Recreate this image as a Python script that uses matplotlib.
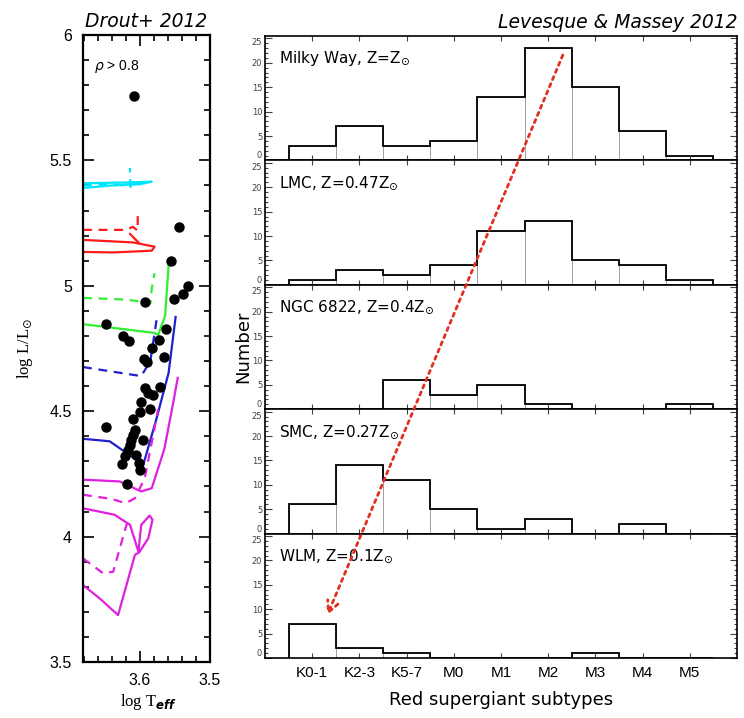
import numpy as np
import matplotlib
matplotlib.use('Agg')
import matplotlib.pyplot as plt
from matplotlib.patches import ConnectionPatch
from matplotlib.ticker import MultipleLocator

# ── right: RSG subtype histograms (Levesque & Massey 2012) ──────────────────
SUBTYPES = ['K0-1', 'K2-3', 'K5-7', 'M0', 'M1', 'M2', 'M3', 'M4', 'M5']
GALAXIES = [r'Milky Way, Z=$\mathregular{Z_{\odot}}$',
            r'LMC, Z=0.47$\mathregular{Z_{\odot}}$',
            r'NGC 6822, Z=0.4$\mathregular{Z_{\odot}}$',
            r'SMC, Z=0.27$\mathregular{Z_{\odot}}$',
            r'WLM, Z=0.1$\mathregular{Z_{\odot}}$']
MW = [3, 7, 3, 4, 13, 23, 15, 6, 1]
LMC = [1, 3, 2, 4, 11, 13, 5, 4, 1]
NGC6822 = [0, 0, 6, 3, 5, 1, 0, 0, 1]
SMC = [6, 14, 11, 5, 1, 3, 0, 2, 0]
WLM = [7, 2, 1, 0, 0, 0, 1, 0, 0]
COUNTS = [MW, LMC, NGC6822, SMC, WLM]
ARROW_START = (5.31, 21.6)   # in Milky Way panel (subtype index, number)
ARROW_END = (0.32, 8.8)      # in WLM panel

# ── left: HR diagram (Drout+ 2012) ──────────────────────────────────────────
DOT_T = [3.608, 3.544, 3.556, 3.531, 3.539, 3.551, 3.593, 3.648, 3.563, 3.624,
         3.616, 3.572, 3.583, 3.594, 3.565, 3.590, 3.571, 3.593, 3.588, 3.581,
         3.598, 3.586, 3.600, 3.610, 3.648, 3.607, 3.610, 3.612, 3.595, 3.614,
         3.617, 3.605, 3.621, 3.626, 3.601, 3.600, 3.619]
DOT_L = [5.756, 5.236, 5.097, 5.000, 4.967, 4.947, 4.937, 4.847, 4.827, 4.800,
         4.780, 4.784, 4.753, 4.707, 4.717, 4.697, 4.597, 4.593, 4.573, 4.564,
         4.537, 4.507, 4.497, 4.467, 4.437, 4.427, 4.407, 4.387, 4.387, 4.367,
         4.347, 4.327, 4.320, 4.289, 4.293, 4.267, 4.209]

# evolutionary tracks: (logT list, logL list, colour, linestyle)
TRACKS = [
    ([3.681, 3.62, 3.583, 3.60, 3.64, 3.681],
     [5.409, 5.412, 5.415, 5.405, 5.40, 5.39], '#00e5ff', '-'),
    ([3.681, 3.64, 3.62, 3.613, 3.614, 3.614],
     [5.40, 5.405, 5.40, 5.395, 5.43, 5.47], '#00e5ff', '--'),
    ([3.681, 3.62, 3.61, 3.603, 3.603],
     [5.223, 5.223, 5.235, 5.22, 5.28], '#ff1a1a', '--'),
    ([3.681, 3.61, 3.579, 3.583, 3.638, 3.681],
     [5.183, 5.173, 5.156, 5.14, 5.133, 5.135], '#ff1a1a', '-'),
    ([3.614, 3.602], [5.207, 5.173], '#ff1a1a', '-'),
    ([3.681, 3.62, 3.593, 3.585, 3.583, 3.579],
     [4.952, 4.945, 4.935, 4.93, 4.99, 5.05], '#33ee33', '--'),
    ([3.681, 3.579, 3.574, 3.564, 3.559],
     [4.847, 4.812, 4.803, 4.88, 5.08], '#33ee33', '-'),
    ([3.681, 3.598, 3.585, 3.576],
     [4.676, 4.64, 4.70, 4.867], '#2020cc', '--'),
    ([3.681, 3.643, 3.595, 3.576, 3.559, 3.549],
     [4.39, 4.38, 4.287, 4.473, 4.653, 4.876], '#2020cc', '-'),
    ([3.681, 3.629, 3.598, 3.583, 3.565, 3.552, 3.546],
     [4.227, 4.22, 4.18, 4.193, 4.35, 4.54, 4.633], '#e020e0', '-'),
    ([3.681, 3.64, 3.62, 3.607, 3.593, 3.579, 3.574],
     [4.167, 4.15, 4.133, 4.153, 4.233, 4.433, 4.507], '#e020e0', '--'),
    ([3.681, 3.636, 3.614, 3.602, 3.598, 3.586, 3.582, 3.588, 3.601, 3.607,
      3.631, 3.657, 3.681],
     [4.113, 4.087, 4.047, 3.94, 4.047, 4.084, 4.067, 3.993, 3.937, 3.927,
      3.687, 3.753, 3.807], '#e020e0', '-'),
    ([3.681, 3.652, 3.638, 3.619, 3.61],
     [3.913, 3.853, 3.86, 4.047, 4.073], '#e020e0', '--'),
]

plt.rcParams['mathtext.fontset'] = 'dejavusans'
fig = plt.figure(figsize=(7.44, 7.18), dpi=100)

# ── left panel ──────────────────────────────────────────────────────────────
axL = fig.add_axes([83/744, 1-662/718, 127/744, 627/718])
for t, l, c, ls in TRACKS:
    axL.plot(t, l, color=c, ls=ls, lw=1.6, dashes=(4, 3) if ls == '--' else (None, None))
axL.plot(DOT_T, DOT_L, 'o', color='k', ms=6.5, zorder=5)
axL.set_xlim(3.681, 3.5)
axL.set_ylim(3.5, 6.0)
axL.xaxis.set_minor_locator(MultipleLocator(0.02))
axL.yaxis.set_minor_locator(MultipleLocator(0.1))
axL.set_xticks([3.6, 3.5])
axL.set_xticklabels(['3.6', '3.5'])
axL.set_yticks([3.5, 4, 4.5, 5, 5.5, 6])
axL.set_yticklabels(['3.5', '4', '4.5', '5', '5.5', '6'])
axL.tick_params(which='both', direction='in', top=True, right=True, width=1.2,
                labelsize=11.5, colors='k')
axL.tick_params(which='major', length=8, pad=8)
axL.tick_params(which='minor', length=4)
for lab in axL.get_xticklabels() + axL.get_yticklabels():
    lab.set_family('Liberation Sans')
for s in axL.spines.values():
    s.set_linewidth(1.6)
axL.text(3.665, 5.875, r'$\rho$ > 0.8', fontsize=10, va='center', family='Liberation Sans')
axL.set_title('Drout+ 2012', fontsize=13.5, style='italic', pad=6)
fig.text(25/744, 1-348/718, r'log L/L$_{\odot}$', rotation=90, ha='center', va='center',
         fontsize=12, family='Liberation Serif')
fig.text(148/744, 1-702/718, r'log T$_{\mathbfit{eff}}$', ha='center', va='center',
         fontsize=12, family='Liberation Serif')

# ── right panels ────────────────────────────────────────────────────────────
x = np.arange(len(SUBTYPES))
edges = np.arange(len(SUBTYPES) + 1) - 0.5
panel_h = (658 - 36) / 5
axes = []
for k, (name, vals) in enumerate(zip(GALAXIES, COUNTS)):
    top = 36 + k*panel_h
    ax = fig.add_axes([265/744, 1-(top+panel_h)/718, 472/744, panel_h/718])
    ax.bar(x, vals, width=1.0, color='white', edgecolor='0.6', lw=0.6)
    ax.stairs(vals, edges, color='k', lw=1.3, baseline=0)
    ax.set_xlim(-1, 9)
    ax.set_ylim(0, 25.5)
    ax.set_xticks(x)
    ax.set_yticks([0, 5, 10, 15, 20, 25])
    ax.yaxis.set_minor_locator(MultipleLocator(1))
    ax.tick_params(which='both', direction='in', top=True, right=True, width=0.8,
                   colors='0.25')
    ax.tick_params(axis='y', which='major', length=5, labelsize=6, pad=2)
    ax.tick_params(axis='y', which='minor', length=2.5)
    ax.tick_params(axis='x', length=3.5)
    ylabs = ax.get_yticklabels()
    ylabs[0].set_va('bottom')
    ylabs[-1].set_va('top')
    for s in ax.spines.values():
        s.set_linewidth(1.2)
    ax.text(0.03, 0.82, name, transform=ax.transAxes, fontsize=11, va='center')
    if k < 4:
        ax.set_xticklabels([])
    else:
        ax.set_xticklabels(SUBTYPES, fontsize=11, color='k', family='Liberation Sans')
        ax.tick_params(axis='x', pad=6)
        ax.set_xlabel('Red supergiant subtypes', fontsize=13, labelpad=8)
    axes.append(ax)

axes[0].set_title('Levesque & Massey 2012', fontsize=13.5, style='italic', loc='right', pad=6)
fig.text(243/744, 1-347/718, 'Number', rotation=90, ha='center', va='center', fontsize=13)

arrow = ConnectionPatch(xyA=ARROW_START, coordsA=axes[0].transData,
                        xyB=ARROW_END, coordsB=axes[4].transData,
                        arrowstyle='->,head_length=0.8,head_width=0.4',
                        color='#e03020', lw=2, linestyle=(0, (1.2, 1.6)), zorder=10)
fig.add_artist(arrow)

fig.savefig('out.png', dpi=100)
